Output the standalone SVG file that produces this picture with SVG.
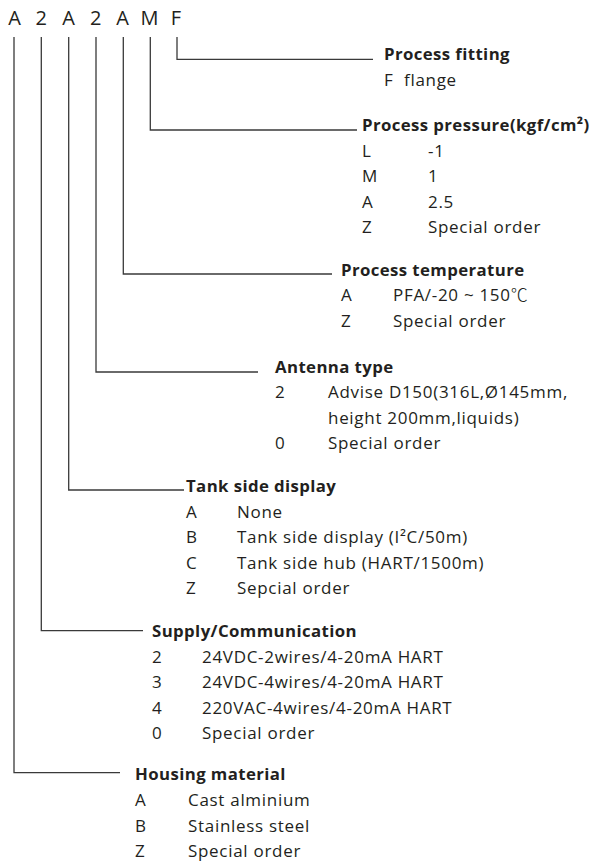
<svg xmlns="http://www.w3.org/2000/svg" width="593" height="862" viewBox="0 0 593 862">
<style>
text{font-family:"Open Sans",Lato,"Liberation Sans",sans-serif;fill:#231f20;font-size:17px;letter-spacing:0.7px}
.code{font-size:20px;text-anchor:middle;letter-spacing:0}
.h{font-weight:bold;font-size:16.8px;letter-spacing:0.4px}
.c{fill:none;stroke:#3a3a3a;stroke-width:1.3}
.deg{font-family:"Noto Sans CJK SC",sans-serif;font-weight:300}
</style>
<rect width="593" height="862" fill="#fff"/>
<g id="code">
<text class="code" x="14.7" y="25">A</text>
<text class="code" x="41.3" y="25">2</text>
<text class="code" x="68.5" y="25">A</text>
<text class="code" x="95.7" y="25">2</text>
<text class="code" x="122.7" y="25">A</text>
<text class="code" x="149.5" y="25">M</text>
<text class="code" x="175.8" y="25">F</text>
</g>
<g id="connectors" class="c">
<path d="M177 37V59.3H373"/>
<path d="M150.3 37V130H357"/>
<path d="M123.3 37V274H332"/>
<path d="M96 37V372H258"/>
<path d="M68.7 37V490H184"/>
<path d="M41.3 37V630.7H143"/>
<path d="M14 37V772.7H120"/>
</g>
<g id="process-fitting">
<text class="h" x="384" y="60">Process fitting</text>
<text x="384" y="85.5">F</text><text x="404" y="85.5">flange</text>
</g>
<g id="process-pressure">
<text class="h" x="362" y="131">Process pressure(kgf/cm²)</text>
<text x="362" y="156.5">L</text><text x="428" y="156.5">-1</text>
<text x="362" y="182">M</text><text x="428" y="182">1</text>
<text x="362" y="207.5">A</text><text x="428" y="207.5">2.5</text>
<text x="362" y="233">Z</text><text x="428" y="233">Special order</text>
</g>
<g id="process-temperature">
<text class="h" x="341" y="275.5">Process temperature</text>
<text x="341" y="301">A</text><text x="393" y="301">PFA/-20 ~ 150<tspan class="deg">℃</tspan></text>
<text x="341" y="326.5">Z</text><text x="393" y="326.5">Special order</text>
</g>
<g id="antenna-type">
<text class="h" x="275" y="372.5">Antenna type</text>
<text x="275" y="398">2</text><text x="328" y="398">Advise D150(316L,Ø145mm,</text>
<text x="328" y="423.5">height 200mm,liquids)</text>
<text x="275" y="449">0</text><text x="328" y="449">Special order</text>
</g>
<g id="tank-side-display">
<text class="h" x="186" y="492">Tank side display</text>
<text x="186" y="517.5">A</text><text x="237" y="517.5">None</text>
<text x="186" y="543">B</text><text x="237" y="543">Tank side display (I²C/50m)</text>
<text x="186" y="568.5">C</text><text x="237" y="568.5">Tank side hub (HART/1500m)</text>
<text x="186" y="594">Z</text><text x="237" y="594">Sepcial order</text>
</g>
<g id="supply-communication">
<text class="h" x="152" y="637">Supply/Communication</text>
<text x="152" y="662.5">2</text><text x="202" y="662.5">24VDC-2wires/4-20mA HART</text>
<text x="152" y="688">3</text><text x="202" y="688">24VDC-4wires/4-20mA HART</text>
<text x="152" y="713.5">4</text><text x="202" y="713.5">220VAC-4wires/4-20mA HART</text>
<text x="152" y="739">0</text><text x="202" y="739">Special order</text>
</g>
<g id="housing-material">
<text class="h" x="135" y="779.5">Housing material</text>
<text x="135" y="805.5">A</text><text x="188" y="805.5">Cast alminium</text>
<text x="135" y="831.5">B</text><text x="188" y="831.5">Stainless steel</text>
<text x="135" y="857">Z</text><text x="188" y="857">Special order</text>
</g>
</svg>
